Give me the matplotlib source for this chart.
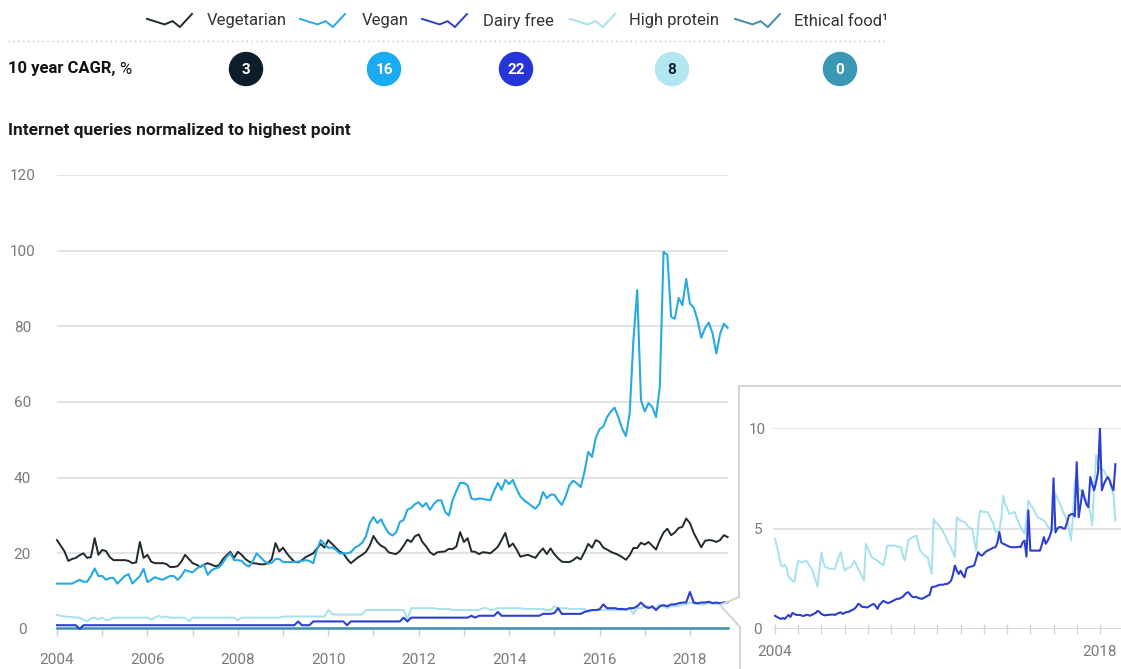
import numpy as np
import matplotlib
matplotlib.use("Agg")
import matplotlib.pyplot as plt

plt.rcParams['font.family'] = ['Roboto', 'DejaVu Sans']

# monthly values, Jan 2004 - Nov 2018 (179 months)
vegetarian = [
    23.5, 22, 20.5, 18, 18.5, 18.8, 19.5, 20, 18.8, 19, 24, 19.6,
    20.9, 20.6, 19, 18.2, 18.2, 18.2, 18.2, 18, 17.4, 17.6, 23, 18.8,
    19.6, 17.8, 17.4, 17.4, 17.4, 17.2, 16.4, 16.4, 16.6, 17.8, 19.6, 18.5,
    17.4, 17, 16.4, 17, 17.4, 17, 16.6, 16.8, 18.4, 19.5, 20.4, 18.8,
    20.4, 19.6, 18.5, 17.8, 17.4, 17.3, 17.1, 17.1, 17.4, 18.5, 22.7, 20.5,
    21.5, 20, 18.8, 17.8, 17.6, 18.2, 19, 19.5, 20, 21.3, 22.5, 21.5,
    23.5, 22.5, 21.5, 20.5, 20, 18.5, 17.4, 18.2, 19, 19.6, 20.4, 22,
    24.6, 23, 22, 21.5, 20.3, 20, 19.8, 20.6, 22, 23.6, 23, 24.5,
    25, 23, 21.8, 20.3, 19.6, 20.3, 20.4, 20.5, 21.2, 21.1, 21.8, 25.6,
    23, 24, 20.5, 20.4, 19.8, 20.3, 20.2, 20, 20.8, 21.7, 23.5, 25.4,
    21.7, 22.6, 21, 19.1, 19.4, 19.6, 19.2, 18.8, 20.2, 21.3, 19.8, 21.3,
    19.8, 18.7, 17.8, 17.7, 17.7, 18.2, 19, 18.4, 20.3, 22.5, 21.5, 23.5,
    23, 21.5, 21, 20.4, 20, 19.6, 19, 18.3, 19.5, 21.4, 21.4, 22.8,
    22.3, 23, 22, 21, 23.5, 25.5, 26.5, 24.8, 25.5, 26.7, 27, 29.2,
    28, 25.4, 23.5, 21.6, 23.3, 23.5, 23.4, 23, 23.5, 24.8, 24.3,
]
vegan = [
    12, 12, 12, 12, 12, 12.5, 13, 12.5, 12.5, 14, 16, 14,
    14, 13, 13.5, 13.5, 12, 13, 14, 14.5, 12, 13, 14, 15.9,
    12.4, 13, 13.7, 13.3, 13, 13.5, 14, 14, 13, 14, 15.6, 15.2,
    15, 15.9, 16.5, 17, 14.3, 15.5, 16, 16.3, 17.5, 19, 20, 18.2,
    18.2, 18, 17, 16.5, 18, 20, 19, 18, 17.3, 17.5, 18.5, 18.5,
    17.7, 17.7, 17.7, 17.7, 17.8, 18, 18.2, 18, 17.4, 21, 23.5, 22.5,
    21.4, 21.6, 21, 20, 20, 20, 20.3, 21.4, 22, 22.8, 24.5, 28,
    29.6, 28, 29, 27, 25.4, 24.7, 25.5, 28.3, 28.8, 31.5, 32, 33,
    33.5, 32.3, 33.3, 31.5, 33, 34, 34, 31, 30, 34, 36.5, 38.6,
    38.6, 38, 34.5, 34.2, 34.5, 34.4, 34.2, 34, 36.5, 38.6, 36.8, 39.4,
    38.3, 39.4, 37, 35, 34, 33.3, 32.5, 31.8, 33, 36.2, 34.6, 35.5,
    35.5, 34, 32.8, 35, 38, 39.2, 38.5, 37.5, 41.5, 46.8, 45.5, 50.5,
    52.8, 53.5, 56, 57.5, 58.5, 56, 53, 51, 57, 76.4, 89.6, 60.5,
    57.5, 59.7, 58.7, 56, 64, 99.7, 98.9, 82.5, 82, 87.5, 85.6, 92.5,
    86, 85, 81.7, 77, 79.5, 81, 78.2, 72.8, 78, 80.7, 79.6,
]
dairy_free = [
    1, 1, 1, 1, 1, 1, 0, 1, 1, 1, 1, 1,
    1, 1, 1, 1, 1, 1, 1, 1, 1, 1, 1, 1,
    1, 1, 1, 1, 1, 1, 1, 1, 1, 1, 1, 1,
    1, 1, 1, 1, 1, 1, 1, 1, 1, 1, 1, 1,
    1, 1, 1, 1, 1, 1, 1, 1, 1, 1, 1, 1,
    1, 1, 1, 1, 2, 1, 1, 1, 2, 2, 2, 2,
    2, 2, 2, 2, 2, 1, 2, 2, 2, 2, 2, 2,
    2, 2, 2, 2, 2, 2, 2, 2, 3, 2, 3, 3,
    3, 3, 3, 3, 3, 3, 3, 3, 3, 3, 3, 3,
    3, 3, 3.5, 3, 3.5, 3.5, 3.5, 3.5, 3.5, 4.5, 3.5, 3.5,
    3.5, 3.5, 3.5, 3.5, 3.5, 3.5, 3.5, 3.5, 3.5, 4, 4, 4,
    4.2, 5.5, 4, 4, 4, 4, 4, 4, 4.5, 4.8, 5, 5,
    5.2, 6.5, 5.5, 5.5, 5.5, 5.3, 5.3, 5.2, 5.5, 5.5, 6, 7,
    6, 5.5, 6, 5, 6, 6.3, 6, 6.5, 6.5, 6.8, 7, 7,
    9.8, 7, 6.8, 7, 7, 7.2, 6.8, 7, 6.8, 7, 7.1,
]
high_protein = [
    3.7, 3.5, 3.3, 3.2, 3.2, 3, 3, 2.5, 2, 2.8, 3, 2.5,
    3, 2.3, 2.5, 3, 3, 3, 3, 3, 3, 3, 3, 3,
    3, 2.5, 3, 3.5, 3, 3.3, 3, 3, 3, 3, 3, 2,
    3, 3, 3, 3, 3, 3, 3, 3, 3, 3, 3, 3,
    2.3, 3, 3, 3, 3, 3, 3, 3, 3, 3, 3, 3,
    3.3, 3.3, 3.3, 3.3, 3.3, 3.3, 3.3, 3.3, 3.3, 3.3, 3.3, 3.3,
    5, 4, 3.8, 3.8, 3.8, 3.8, 3.8, 3.8, 3.8, 3.8, 5, 5,
    5, 5, 5, 5, 5, 5, 5, 5, 5, 2.5, 5.5, 5.5,
    5.5, 5.5, 5.5, 5.5, 5.5, 5.3, 5.3, 5.3, 5.3, 5, 5, 5,
    5, 5, 5, 5, 5, 5.5, 5.5, 5, 5.2, 5.5, 5.5, 5.5,
    5.5, 5.5, 5.5, 5.5, 5.3, 5.3, 5.3, 5.3, 5.3, 5.3, 5, 5,
    6, 5.5, 5.5, 5.5, 5.3, 5.3, 5.3, 5.3, 5.3, 4.5, 5, 5,
    5, 5, 5, 5, 5, 5, 5, 5, 5.5, 4, 5.5, 5.5,
    6, 6, 5.5, 5.5, 6.5, 6, 5.5, 6, 6, 6, 6.5, 6.5,
    7, 6.8, 6.5, 6.5, 6.5, 7, 7, 6.5, 6.8, 7, 7,
]
ethical_food = [0.2] * 179

# inset: dairy free and high protein on their own scale, Jan 2004 - Sep 2018
inset_dairy = [
    0.66, 0.6, 0.55, 0.5, 0.55, 0.5, 0.6, 0.7, 0.6, 0.8, 0.75, 0.7,
    0.7, 0.7, 0.66, 0.65, 0.7, 0.7, 0.66, 0.7, 0.75, 0.8, 0.9, 0.85,
    0.75, 0.7, 0.68, 0.7, 0.7, 0.72, 0.72, 0.7, 0.75, 0.8, 0.83, 0.75,
    0.8, 0.85, 0.85, 0.9, 0.95, 1.0, 1.1, 1.25, 1.2, 1.1, 1.1, 1.08,
    1.08, 1.15, 1.2, 1.25, 1.15, 1.0, 1.2, 1.3, 1.4, 1.35, 1.3, 1.3,
    1.35, 1.4, 1.45, 1.5, 1.5, 1.55, 1.6, 1.7, 1.8, 1.83, 1.7, 1.6,
    1.58, 1.6, 1.55, 1.52, 1.5, 1.55, 1.6, 1.66, 1.7, 2.08, 2.1, 2.12,
    2.16, 2.2, 2.2, 2.2, 2.24, 2.24, 2.3, 2.4, 2.7, 3.16, 2.9, 2.74,
    2.9, 2.7, 2.57, 3.0, 3.07, 3.1, 3.12, 3.16, 3.5, 3.82, 3.7, 3.65,
    3.75, 3.85, 3.9, 3.95, 4.0, 4.05, 4.07, 4.3, 4.82, 4.3, 4.24, 4.2,
    4.15, 4.1, 4.07, 4.07, 4.07, 4.07, 4.1, 4.07, 4.3, 4.4, 3.6, 5.9,
    3.9, 3.9, 3.9, 3.9, 3.9, 3.9, 4.2, 4.57, 4.24, 4.4, 4.6, 4.9,
    7.5, 4.8, 5.0, 5.07, 5.07, 5.0, 5.0, 5.3, 5.65, 5.7, 5.73, 5.6,
    8.3, 5.56, 6.2, 6.9, 6.5, 6.2, 6.06, 7.56, 7.2, 6.9, 7.3, 7.8,
    9.97, 6.9, 7.2, 7.4, 7.56, 7.4, 7.1, 6.9, 8.2,
]
inset_protein = [
    4.5, 4.1, 3.7, 3.2, 3.1, 3.2, 3.0, 2.6, 2.5, 2.4, 2.35, 2.9,
    3.4, 3.35, 3.3, 3.35, 3.4, 3.3, 3.1, 3.0, 2.7, 2.4, 2.1, 3.0,
    3.8, 3.3, 3.07, 3.05, 3.0, 3.0, 3.0, 3.0, 3.3, 3.6, 3.82, 3.3,
    2.9, 3.0, 3.05, 3.07, 3.2, 3.4, 3.2, 3.0, 2.8, 2.6, 2.41, 4.24,
    4.0, 3.8, 3.57, 3.5, 3.45, 3.4, 3.3, 3.25, 3.16, 3.6, 4.15, 4.15,
    4.15, 4.15, 4.15, 4.1, 4.1, 4.07, 3.7, 3.4, 3.9, 4.4, 4.5, 4.55,
    4.6, 4.65, 4.3, 3.9, 3.8, 3.7, 3.6, 3.57, 3.1, 2.74, 5.48, 5.3,
    5.23, 5.1, 5.0, 4.8, 4.65, 4.4, 4.2, 4.07, 3.8, 3.57, 5.56, 5.45,
    5.4, 5.35, 5.32, 5.2, 5.1, 5.0, 4.98, 4.4, 3.9, 5.07, 5.9, 5.85,
    5.82, 5.81, 5.81, 5.6, 5.4, 5.23, 4.82, 4.85, 4.9, 5.5, 6.64, 6.2,
    6.0, 5.73, 5.75, 5.8, 5.81, 5.5, 5.3, 5.07, 4.9, 4.73, 5.5, 6.4,
    6.2, 6.06, 5.9, 5.7, 5.56, 5.5, 5.45, 5.4, 5.3, 5.1, 5.0, 4.9,
    6.0, 6.73, 6.5, 6.3, 6.06, 5.8, 5.6, 5.4, 5.0, 4.4, 5.5, 7.4,
    7.2, 7.0, 6.9, 6.7, 6.55, 6.4, 6.2, 5.8, 5.15, 7.0, 8.64, 8.06,
    8.0, 7.95, 7.9, 7.7, 7.55, 7.4, 7.0, 6.64, 5.4,
]

names = ["Vegetarian", "Vegan", "Dairy free", "High protein", "Ethical food\u00b9"]
cagr = [3, 16, 22, 8, 0]
line_colors = ["#1f2a30", "#27a9e1", "#2c3fd1", "#a6e1ec", "#3b8fab"]
circle_colors = ["#0d1e2b", "#1aabf0", "#2535d8", "#b2e6f0", "#3a97b5"]
circle_text = ["white", "white", "white", "#13212c", "white"]

W, H = 1121, 669
fig = plt.figure(figsize=(W / 100, H / 100), dpi=100)
fig.patch.set_facecolor("white")


def box(x0, y0, x1, y1):
    # pixel box (top-left origin) -> figure fraction rect
    return [x0 / W, 1 - y1 / H, (x1 - x0) / W, (y1 - y0) / H]


months = 2004 + np.arange(len(vegan)) / 12
inset_months = 2004 + np.arange(len(inset_dairy)) / 12
grey = "#7a7a7a"

# ---- main chart
ax = fig.add_axes(box(57, 175, 728, 629))
ax.set_xlim(2004, 2004 + (728 - 57) / 45.21)
ax.set_ylim(0, 120)
for s in ax.spines.values():
    s.set_visible(False)
ax.set_yticks(range(0, 121, 20))
ax.yaxis.grid(True, color="#dedede", lw=1.2)
ax.set_axisbelow(True)
ax.tick_params(axis="y", length=0, pad=25, labelcolor=grey, labelsize=11)
for lab in ax.get_yticklabels():
    lab.set_horizontalalignment("center")
ax.set_xticks(range(2004, 2019))
ax.set_xticklabels([str(y) if y % 2 == 0 else "" for y in range(2004, 2019)])
ax.tick_params(axis="x", length=5, width=1, color="#cfcfcf", pad=12,
               labelcolor=grey, labelsize=11)

ax.plot(months, ethical_food, color=line_colors[4], lw=1.8, clip_on=False, zorder=3)
ax.plot(months, high_protein, color=line_colors[3], lw=1.4, clip_on=False, zorder=3)
ax.plot(months, dairy_free, color=line_colors[2], lw=1.5, clip_on=False, zorder=4)
ax.plot(months, vegetarian, color=line_colors[0], lw=1.4, clip_on=False, zorder=4)
ax.plot(months, vegan, color=line_colors[1], lw=1.5, clip_on=False, zorder=5)

# ---- inset
ix = fig.add_axes(box(773, 428, 1121, 629))
ix.set_xlim(2004 - 2 / 23.21, 2004 + (1121 - 775) / 23.21)
ix.set_ylim(0, 10)
for s in ix.spines.values():
    s.set_visible(False)
ix.set_yticks([0, 5, 10])
ix.set_yticklabels(["0", "5", "10"])
ix.yaxis.grid(True, color="#dedede", lw=1.2)
ix.set_axisbelow(True)
ix.tick_params(axis="y", length=0, pad=11, labelcolor=grey, labelsize=11)
for lab in ix.get_yticklabels():
    lab.set_horizontalalignment("center")
ix.axhline(0, color="#d6d6d6", lw=1.2, zorder=1)
ix.set_xticks(range(2004, 2019))
ix.set_xticklabels([str(y) if y in (2004, 2018) else "" for y in range(2004, 2019)])
ix.tick_params(axis="x", direction="inout", length=7, width=1, color="#d6d6d6",
               pad=8, labelcolor=grey, labelsize=11)
ix.plot(inset_months, inset_protein, color=line_colors[3], lw=1.4, zorder=3)
ix.plot(inset_months, inset_dairy, color=line_colors[2], lw=1.5, zorder=4)

# ---- overlay in pixel coordinates for header and callout frame
ov = fig.add_axes([0, 0, 1, 1])
ov.set_xlim(0, W)
ov.set_ylim(H, 0)
ov.axis("off")

# legend
glyph_x = [147, 300, 422, 570, 735]
label_x = [207, 362, 483, 629, 794]
gx = np.array([0, 0.39, 0.57, 0.73, 1.0]) * 45
gy = 14 + np.array([0.375, 0.8, 0.55, 1.0, 0.0]) * 13
for i, name in enumerate(names):
    ov.plot(glyph_x[i] + gx, gy, color=line_colors[i], lw=1.4,
            solid_joinstyle="miter")
    ov.text(label_x[i], 21, name, fontsize=12, color="#333333",
            ha="left", va="center")

ov.plot([8, 885], [41, 41], color="#c4c4c4", lw=1, linestyle=(0, (1, 2.5)))

# CAGR row
t = ov.text(8, 69, "10 year CAGR,", fontsize=12, fontweight="bold",
            color="#111111", ha="left", va="center")
fig.canvas.draw()
bb = t.get_window_extent(renderer=fig.canvas.get_renderer())
ov.text(bb.x1 + 4, 69, "%", fontsize=12, color="#111111", ha="left", va="center")

circle_x = [246, 384, 516, 672, 840]
for i, v in enumerate(cagr):
    ov.add_patch(plt.Circle((circle_x[i], 69), 16.5, color=circle_colors[i]))
    ov.text(circle_x[i], 69.5, str(v), fontsize=11, fontweight="bold",
            color=circle_text[i], ha="center", va="center")

ov.text(8, 130, "Internet queries normalized to highest point", fontsize=12.5,
        fontweight="bold", color="#1a1a1a", ha="left", va="center")

# callout frame around the inset
ov.plot([W, 739, 739, 720, 740, 740], [386, 386, 597, 605, 627, H],
        color="#d4d4d4", lw=1.5, solid_joinstyle="miter")

fig.savefig("out.png", dpi=100, facecolor="white")
